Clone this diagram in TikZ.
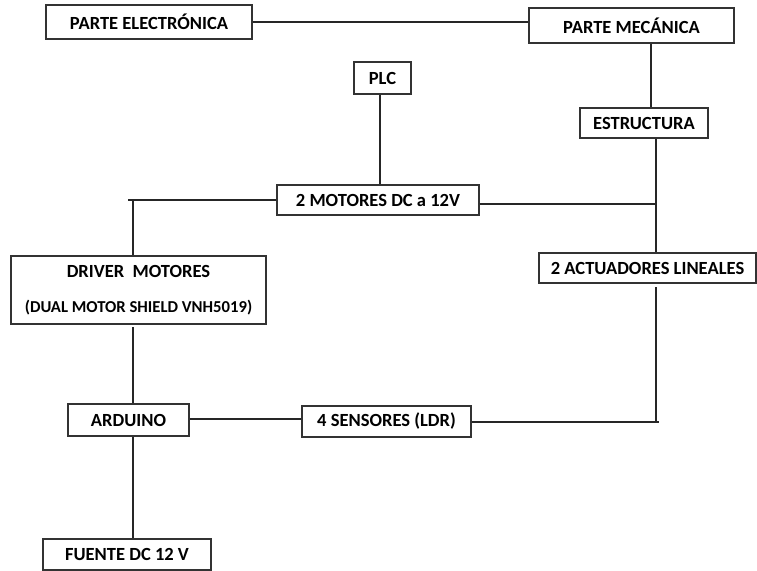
\documentclass[tikz,border=0pt]{standalone}
\usepackage{fontspec}
\setmainfont{Carlito}
\begin{document}
\begin{tikzpicture}[x=0.75pt,y=-0.75pt,
  box/.style={draw=black!80,line width=0.9pt,fill=white,inner sep=0pt,font=\bfseries\fontsize{13.9pt}{16pt}\selectfont,align=center},
  link/.style={draw=black!85,line width=0.8pt}]
\useasboundingbox[fill=white] (0,0) rectangle (757,571);
\node[box,minimum width=154.5pt,minimum height=25.5pt] (elec) at (149,22) {PARTE ELECTRÓNICA};
\node[box,minimum width=153.75pt,minimum height=26.25pt] (mec) at (631.5,25.5) {PARTE MECÁNICA};
\node[box,minimum width=42.75pt,minimum height=24pt] (plc) at (382.5,78) {PLC};
\node[box,minimum width=96pt,minimum height=22.5pt] (estr) at (644,123) {ESTRUCTURA};
\node[box,minimum width=151.5pt,minimum height=22.5pt] (mot) at (378,200) {2 MOTORES DC a 12V};
\node[box,minimum width=162.75pt,minimum height=22.5pt] (act) at (647.5,268) {2 ACTUADORES LINEALES};
\node[box,minimum width=191.25pt,minimum height=51pt] (drv) at (138.5,290) {DRIVER\ \ MOTORES\\[10pt]{\fontsize{12.5pt}{15pt}\selectfont(DUAL MOTOR SHIELD VNH5019)}};
\node[box,minimum width=90.75pt,minimum height=24pt] (ard) at (128.5,420) {ARDUINO};
\node[box,minimum width=126.75pt,minimum height=23.25pt] (sens) at (386.5,421.5) {4 SENSORES (LDR)};
\node[box,minimum width=126pt,minimum height=23.25pt] (fue) at (127,554.5) {FUENTE DC 12 V};
% guide coordinates
\coordinate (xm) at (651,0);
\coordinate (xr) at (656,0);
\coordinate (xl) at (133,0);
\coordinate (tl) at (128,200);
\coordinate (jr) at (656,204);
\coordinate (tr) at (659,422);
\coordinate (ga) at (656,287);
\coordinate (gd) at (133,327);
% connectors
\draw[link] (elec.east) -- (elec.east -| mec.west);
\draw[link] (mec.south -| xm) -- (estr.north -| xm);
\draw[link] (plc.south -| 380,0) -- (mot.north -| 380,0);
\draw[link] (mot.west |- tl) -- (tl);
\draw[link] (tl -| xl) -- (drv.north -| xl);
\draw[link] (mot.east |- jr) -- (jr);
\draw[link] (estr.south -| xr) -- (act.north -| xr);
\draw[link] (ga) -- (tr -| xr);
\draw[link] (sens.east |- tr) -- (tr);
\draw[link] (gd) -- (ard.north -| xl);
\draw[link] (ard.east |- 0,419) -- (sens.west |- 0,419);
\draw[link] (ard.south -| xl) -- (fue.north -| xl);
\end{tikzpicture}
\end{document}
